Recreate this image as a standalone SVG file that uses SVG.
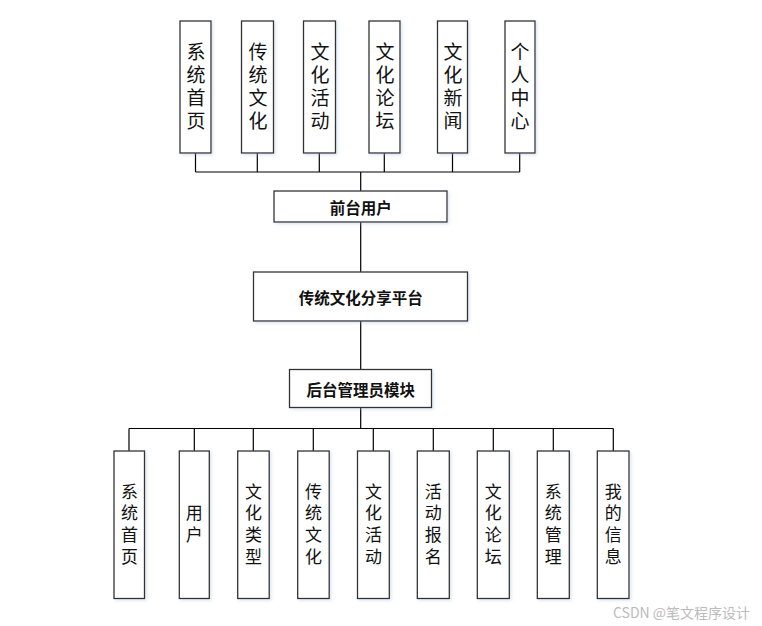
<svg xmlns="http://www.w3.org/2000/svg" width="762" height="626" viewBox="0 0 762 626">
<defs>
<filter id="sh" x="-20%" y="-20%" width="140%" height="140%">
<feDropShadow dx="1.5" dy="1.5" stdDeviation="1.5" flood-color="#9bb3d6" flood-opacity="0.35"/>
</filter>
</defs>
<style>
.box{fill:#fff;stroke:#333;stroke-width:1.3;filter:url(#sh)}
.ln{stroke:#000;stroke-width:1.2;fill:none}
.vt{font-family:"Noto Sans CJK SC","Liberation Sans",sans-serif;font-size:19px;fill:#111;text-anchor:middle;writing-mode:vertical-rl;text-orientation:upright;letter-spacing:4px}
.vb{font-family:"Noto Sans CJK SC","Liberation Sans",sans-serif;font-size:17px;fill:#111;text-anchor:middle;writing-mode:vertical-rl;text-orientation:upright;letter-spacing:4.7px}
.h{font-family:"Noto Sans CJK SC","Liberation Sans",sans-serif;font-size:15.5px;font-weight:bold;fill:#111;text-anchor:middle;dominant-baseline:central}
.wm{font-family:"Noto Sans CJK SC","Liberation Sans",sans-serif;font-size:14px;fill:#bbb}
</style>
<g id="connectors">
<path class="ln" d="M195.5 153V172M257.3 153V172M319.3 153V172M384.3 153V172M452.5 153V172M519.7 153V172M195.5 172H519.7M360.7 172V191"/>
<path class="ln" d="M360.7 222V272M360.7 321V369M360.7 407V428.5"/>
<path class="ln" d="M129 428.5H613.3M129 428.5V451M194.3 428.5V451M253.3 428.5V451M313.3 428.5V451M373.3 428.5V451M433.3 428.5V451M493.3 428.5V451M553.3 428.5V451M613.3 428.5V451"/>
</g>
<g id="t1"><rect class="box" x="180" y="21" width="31" height="132"/><text class="vt" x="196" y="88">系统首页</text></g>
<g id="t2"><rect class="box" x="241.5" y="21" width="32" height="132"/><text class="vt" x="258" y="88">传统文化</text></g>
<g id="t3"><rect class="box" x="303.5" y="21" width="32" height="132"/><text class="vt" x="320" y="88">文化活动</text></g>
<g id="t4"><rect class="box" x="369" y="21" width="31" height="132"/><text class="vt" x="385" y="88">文化论坛</text></g>
<g id="t5"><rect class="box" x="437.5" y="21" width="30" height="132"/><text class="vt" x="453" y="88">文化新闻</text></g>
<g id="t6"><rect class="box" x="505" y="21" width="30" height="132"/><text class="vt" x="520" y="88">个人中心</text></g>
<g id="front"><rect class="box" x="274" y="191" width="173" height="31"/><text class="h" x="360.7" y="207">前台用户</text></g>
<g id="platform"><rect class="box" x="253.5" y="272" width="214" height="49"/><text class="h" x="360.7" y="297">传统文化分享平台</text></g>
<g id="admin"><rect class="box" x="289.5" y="369.5" width="142" height="38"/><text class="h" x="360.7" y="389">后台管理员模块</text></g>
<g id="b1"><rect class="box" x="114" y="451" width="30.5" height="147.5"/><text class="vb" x="129.5" y="526">系统首页</text></g>
<g id="b2"><rect class="box" x="179.3" y="451" width="30" height="147.5"/><text class="vb" x="194.3" y="526">用户</text></g>
<g id="b3"><rect class="box" x="237.7" y="451" width="31.5" height="147.5"/><text class="vb" x="253.5" y="526">文化类型</text></g>
<g id="b4"><rect class="box" x="297.7" y="451" width="31.5" height="147.5"/><text class="vb" x="313.5" y="526">传统文化</text></g>
<g id="b5"><rect class="box" x="357.5" y="451" width="31.8" height="147.5"/><text class="vb" x="373.4" y="526">文化活动</text></g>
<g id="b6"><rect class="box" x="417.3" y="451" width="32" height="147.5"/><text class="vb" x="433.3" y="526">活动报名</text></g>
<g id="b7"><rect class="box" x="477.3" y="451" width="32" height="147.5"/><text class="vb" x="493.3" y="526">文化论坛</text></g>
<g id="b8"><rect class="box" x="537.3" y="451" width="32" height="147.5"/><text class="vb" x="553.3" y="526">系统管理</text></g>
<g id="b9"><rect class="box" x="597.3" y="451" width="31.7" height="147.5"/><text class="vb" x="613.2" y="526">我的信息</text></g>
<text class="wm" x="613" y="617.5">CSDN @笔文程序设计</text>
</svg>
